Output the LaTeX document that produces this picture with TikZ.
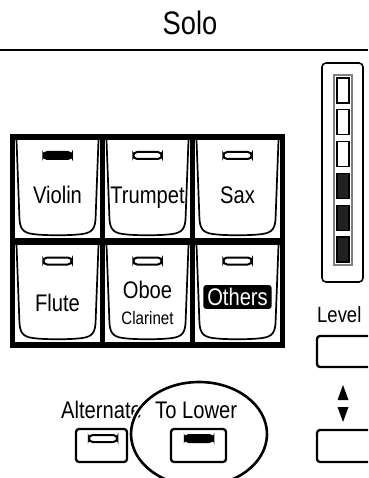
\documentclass[tikz,border=0pt]{standalone}
\usepackage{fontspec}
\setmainfont{Liberation Sans}[FakeStretch=0.84]
\newcommand\myfs[1]{\fontsize{#1}{#1}\selectfont}
\begin{document}
\begin{tikzpicture}[x=1pt,y=-1pt,
  keyline/.style={line width=1.7pt, line join=round},
  pill/.style={draw, line width=2pt, rounded corners=4pt, minimum width=28.5pt, minimum height=7pt, inner sep=0pt, fill=white},
  pillon/.style={pill, fill=black},
  btn/.style={draw, line width=2.3pt, rounded corners=3pt, inner sep=0pt},
  lbl/.style={inner sep=0pt, font=\myfs{24}},
  seg/.style={draw, line width=1.2pt},
]
\useasboundingbox (0,0) rectangle (368,478);
\clip (0,0) rectangle (368,478);

% title
\node[inner sep=0pt, font=\myfs{32.5}, anchor=base] (solo) at (190,35) {Solo};
\draw[line width=2.2pt] (0,50) -- (368,50);

% panel
\fill (9.5,134.5) rectangle (284.5,347.5);
\foreach \l/\r in {15/100,105/190,195/280}{
  \foreach \t/\b in {140/238,245/342}{
    \fill[white] (\l,\t) rectangle (\r,\b);
    \draw[keyline] ({\l+1.5},\t) -- ({\l+4.5},{\b-18})
      .. controls ({\l+5.5},{\b-7}) and ({\l+10},{\b-4.5}) .. ({\l+22},{\b-3.5})
      .. controls ({\l+32},{\b-2.5}) and ({\r-32},{\b-2.5}) .. ({\r-22},{\b-3.5})
      .. controls ({\r-10},{\b-4.5}) and ({\r-5.5},{\b-7}) .. ({\r-4.5},{\b-18})
      -- ({\r-1.5},\t);
  }
}

% LED pills
\node[pillon] (pV) at (57.5,155.5) {};
\node[pill] (pT) at (147.5,155.5) {};
\node[pill] (pS) at (237.5,155.5) {};
\node[pill] (pF) at (57.5,261) {};
\node[pill] (pO) at (147.5,261) {};
\node[pill] (pX) at (237.5,261) {};

% labels
\node[lbl, anchor=base] (violin) at (57.5,203.5) {Violin};
\node[lbl, anchor=base] (trumpet) at (147.5,203.5) {Trumpet};
\node[lbl, anchor=base] (sax) at (237.5,203.5) {Sax};
\node[lbl, anchor=base] (flute) at (57.5,311) {Flute};
\node[lbl, anchor=base] (oboe) at (147.5,298.5) {Oboe};
\node[inner sep=0pt, font=\myfs{18}, anchor=base] (clarinet) at (147.5,324.5) {Clarinet};
\node[font=\myfs{24}, fill=black, text=white, rounded corners=2.5pt, inner xsep=3.8pt, inner ysep=3pt] (others) at (237.5,297) {Others};

% level meter
\draw[line width=1.6pt, rounded corners=4pt] (322,63) rectangle (363,282);
\draw[gray, line width=1.2pt] (334,75) rectangle (352,265);
\foreach \i in {0,1,2}{
  \draw[seg, fill=white] (337,{78+31.8*\i}) rectangle (349,{103+31.8*\i});
}
\foreach \i in {3,4,5}{
  \draw[seg, fill=black!87] (337,{78+31.8*\i}) rectangle (349,{103+31.8*\i});
}

% level buttons
\node[inner sep=0pt, font=\myfs{22}, anchor=base west] (level) at (317,322) {Level};
\node[btn, minimum width=62pt, minimum height=31pt] (upbtn) at (348,351.5) {};
\node[btn, minimum width=62pt, minimum height=32pt] (downbtn) at (348,446) {};
\fill (337.5,400) -- (343,385) -- (348.5,400) -- cycle;
\fill (337.5,407) -- (343,422) -- (348.5,407) -- cycle;

% bottom buttons
\node[lbl, anchor=base west] (alt) at (61,418) {Alternate};
\draw[white, line width=6pt] (199,434) ellipse [x radius=68pt, y radius=52pt];
\draw[line width=2.6pt] (199,434) ellipse [x radius=68pt, y radius=52pt];
\node[lbl, anchor=base west] (tolower) at (155,418) {To Lower};
\node[btn, minimum width=51pt, minimum height=33pt] (altbtn) at (101.5,445.5) {};
\node[btn, minimum width=55pt, minimum height=33pt] (tlbtn) at (198.5,445.5) {};
\node[pill] (pA) at (103,438.5) {};
\node[pillon] (pL) at (199,438.5) {};
\end{tikzpicture}
\end{document}
